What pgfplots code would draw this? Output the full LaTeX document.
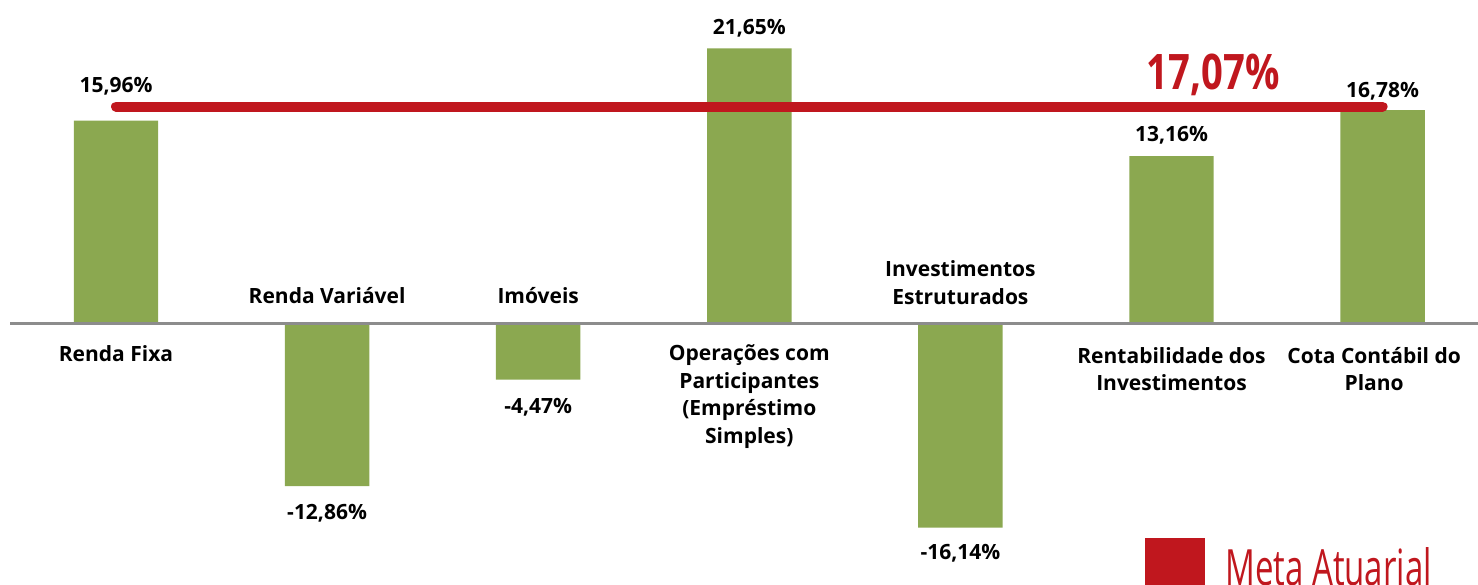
\documentclass[border=0pt]{standalone}
\usepackage{fontspec}
\setmainfont{Open Sans}
\newfontfamily\condfont[FakeStretch=0.78]{Open Sans}
\newfontfamily\legfont[FakeStretch=0.66]{Open Sans}
\usepackage{pgfplots}
\pgfplotsset{compat=1.18}

\definecolor{bargreen}{RGB}{139,168,80}
\definecolor{metared}{RGB}{192,23,30}
\definecolor{zerogray}{RGB}{140,140,140}

\tikzset{lbl/.style={font=\bfseries\fontsize{10.5}{13.75}\selectfont, align=center, inner sep=0pt}}

\begin{document}
\begin{tikzpicture}
\begin{axis}[
    scale only axis,
    width=739pt, height=292pt,
    hide axis,
    xmin=-0.5495, xmax=6.452,
    ymin=-20.58, ymax=25.47,
    clip=false,
    legend style={draw=none, fill=none, at={(axis cs:4.874,-19.32)}, anchor=west,
        font=\legfont\fontsize{25}{30}\selectfont, text=metared,
        inner sep=0pt, column sep=8pt},
    legend cell align=left,
]
  % rentabilidade por segmento
  \addplot[ybar, bar width=0.4, fill=bargreen, draw=none, forget plot]
    coordinates {(0,15.96) (1,-12.86) (2,-4.47) (3,21.65) (4,-16.14) (5,13.16) (6,16.78)};
  % linha do zero
  \addplot[zerogray, line width=1.5pt, forget plot] coordinates {(-0.502,0) (6.452,0)};
  % meta atuarial
  \addplot[metared, line width=5pt, line cap=round,
    legend image code/.code={\path[fill=metared, draw=none] (0pt,-15pt) rectangle (30pt,15pt);}]
    coordinates {(0,17.07) (6,17.07)};
  \addlegendentry{Meta Atuarial}

  \node[lbl] at (axis cs:0,18.69) {15,96\%};
  \node[lbl] at (axis cs:0,-2.44) {Renda Fixa};
  \node[lbl] at (axis cs:1,2.13) {Renda Variável};
  \node[lbl] at (axis cs:1,-14.98) {-12,86\%};
  \node[lbl] at (axis cs:2,2.13) {Imóveis};
  \node[lbl] at (axis cs:2,-6.62) {-4,47\%};
  \node[lbl] at (axis cs:3,23.26) {21,65\%};
  \node[lbl] at (axis cs:3,-5.80) {Operações com\\Participantes\\(Empréstimo\\Simples)};
  \node[lbl] at (axis cs:4,3.19) {Investimentos\\Estruturados};
  \node[lbl] at (axis cs:4,-18.14) {-16,14\%};
  \node[lbl] at (axis cs:5,14.83) {13,16\%};
  \node[lbl] at (axis cs:5,-3.63) {Rentabilidade dos\\Investimentos};
  \node[lbl] at (axis cs:6,18.30) {16,78\%};
  \node[lbl] at (axis cs:5.96,-3.63) {Cota Contábil do\\Plano};
  \node[font=\condfont\bfseries\fontsize{24.5}{28}\selectfont, text=metared, inner sep=0pt]
    at (axis cs:5.197,19.56) {17,07\%};
\end{axis}
\pgfresetboundingbox
\useasboundingbox (current axis.south west) rectangle (current axis.north east);
\end{tikzpicture}
\end{document}
